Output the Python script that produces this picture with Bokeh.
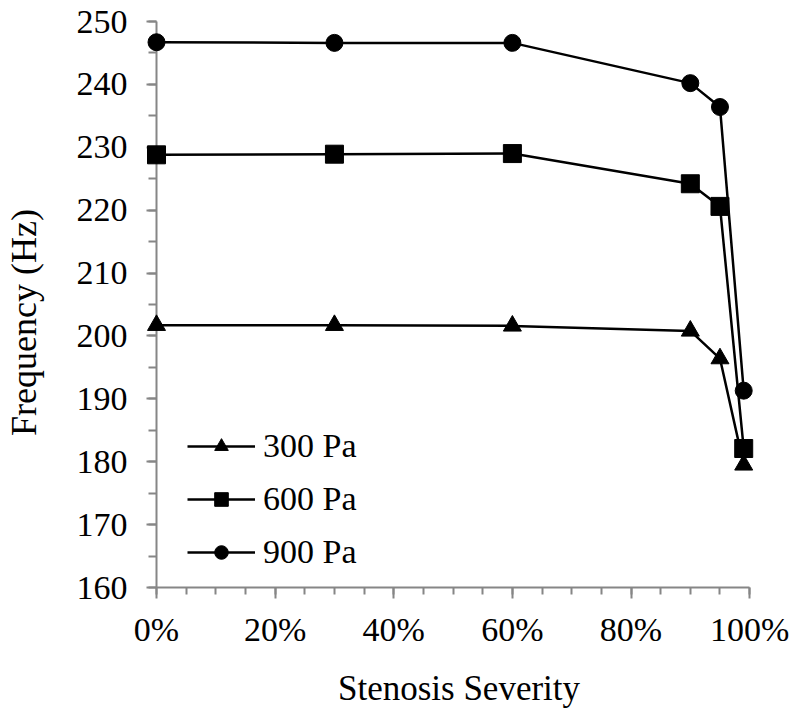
from bokeh.plotting import figure
from bokeh.models import Legend, LegendItem, FixedTicker, NumeralTickFormatter, Range1d
from bokeh.embed import file_html
from bokeh.resources import INLINE

severity = [0.0, 0.30, 0.60, 0.90, 0.95, 0.99]
freq_300 = [201.7, 201.7, 201.6, 200.8, 196.4, 179.5]
freq_600 = [228.8, 228.9, 229.0, 224.2, 220.6, 182.1]
freq_900 = [246.7, 246.6, 246.6, 240.2, 236.4, 191.3]
series_names = ["300 Pa", "600 Pa", "900 Pa"]
x_ticks = [0.0, 0.2, 0.4, 0.6, 0.8, 1.0]
y_ticks = [160, 170, 180, 190, 200, 210, 220, 230, 240, 250]

FONT = "Liberation Serif"
AX = "#868686"

p = figure(width=792, height=710, x_range=Range1d(0, 1.02), y_range=Range1d(160, 250),
           output_backend="svg", toolbar_location=None,
           min_border_left=153, min_border_right=31, min_border_top=21, min_border_bottom=123)
p.grid.visible = False
p.outline_line_color = None
p.background_fill_color = "white"
p.border_fill_color = "white"

x_minor = [i * 0.05 for i in range(21)]
y_minor = list(range(160, 251, 5))
p.xaxis.ticker = FixedTicker(ticks=x_ticks, minor_ticks=x_minor)
p.yaxis.ticker = FixedTicker(ticks=y_ticks, minor_ticks=y_minor)
p.xaxis.formatter = NumeralTickFormatter(format="0%")
p.xaxis.bounds = (0, 1)
p.yaxis.bounds = (160, 250)

for ax in (p.xaxis, p.yaxis):
    ax.axis_line_color = AX
    ax.axis_line_width = 2
    ax.major_tick_line_color = AX
    ax.major_tick_line_width = 2
    ax.minor_tick_line_color = AX
    ax.minor_tick_line_width = 2
    ax.major_tick_in = 0
    ax.minor_tick_in = 0
    ax.major_label_text_font = FONT
    ax.major_label_text_font_size = "34px"
    ax.major_label_text_color = "black"
    ax.axis_label_text_font = FONT
    ax.axis_label_text_font_style = "normal"
    ax.axis_label_text_color = "black"
    ax.axis_label_text_line_height = 1.0

p.xaxis.axis_label_text_font_size = "35px"
p.yaxis.axis_label_text_font_size = "36px"
p.xaxis.major_tick_out = 11
p.xaxis.minor_tick_out = 7
p.yaxis.major_tick_out = 10
p.yaxis.minor_tick_out = 8
p.xaxis.major_label_standoff = 12
p.yaxis.major_label_standoff = 19
p.xaxis.axis_label = "Stenosis Severity"
p.xaxis.axis_label_standoff = 18
# trailing no-break spaces push the rotated title slightly downward, as in the original
p.yaxis.axis_label = "Frequency (Hz)" + "\u00a0" * 4
p.yaxis.axis_label_standoff = 30

l1 = p.line(severity, freq_300, line_color="black", line_width=2.5)
s1 = p.scatter(severity, freq_300, marker="triangle", size=18, fill_color="black",
               line_color="black", level="overlay")
l2 = p.line(severity, freq_600, line_color="black", line_width=2.5)
s2 = p.scatter(severity, freq_600, marker="square", size=18, fill_color="black",
               line_color="black", level="overlay")
l3 = p.line(severity, freq_900, line_color="black", line_width=2.5)
s3 = p.scatter(severity, freq_900, marker="circle", size=17, fill_color="black",
               line_color="black", level="overlay")

legend = Legend(items=[LegendItem(label=series_names[0], renderers=[l1, s1]),
                       LegendItem(label=series_names[1], renderers=[l2, s2]),
                       LegendItem(label=series_names[2], renderers=[l3, s3])],
                location=(31, 16), padding=0, margin=0, border_line_color=None,
                background_fill_alpha=0, glyph_width=68, glyph_height=34,
                label_height=34, label_standoff=8, spacing=15,
                label_text_font=FONT, label_text_font_size="34px", label_text_color="black")
p.add_layout(legend, "center")

open("out.html", "w").write(file_html(p, INLINE))
